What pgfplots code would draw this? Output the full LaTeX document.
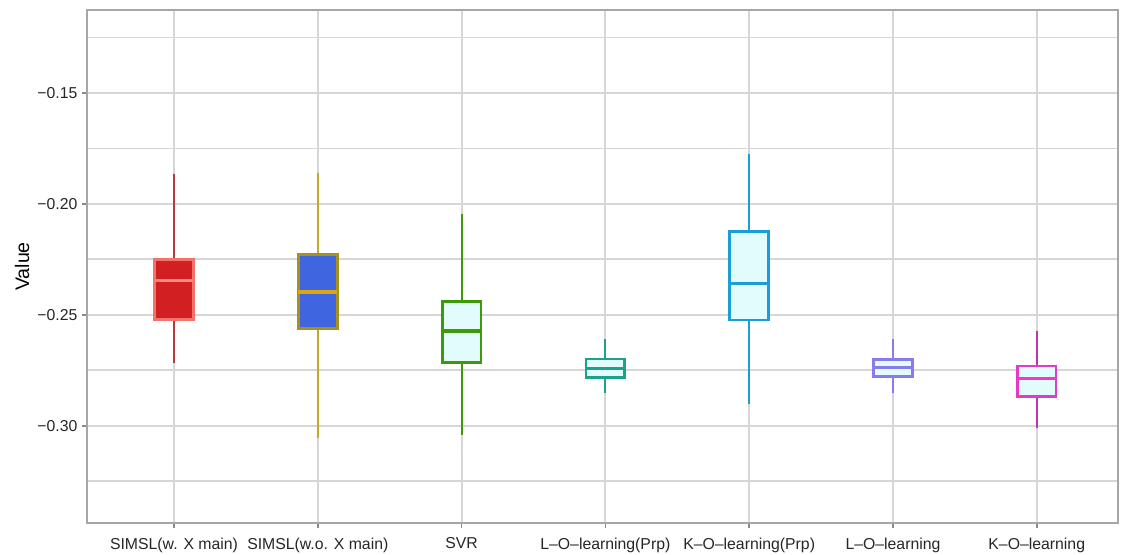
\documentclass[border=0pt]{standalone}
\usepackage{pgfplots}
\pgfplotsset{compat=1.18}
\usepgfplotslibrary{statistics}
\usepackage{fontspec}
\setmainfont{Liberation Sans}
\definecolor{gridgray}{HTML}{D6D6D6}
\definecolor{bordergray}{HTML}{A6A6A6}
\definecolor{tickgray}{HTML}{8A8A8A}
\definecolor{c1fill}{HTML}{D11F22}
\definecolor{c1line}{HTML}{F2736B}
\definecolor{c1med}{HTML}{F58A82}
\definecolor{c1wh}{HTML}{B83A3A}
\definecolor{c2fill}{HTML}{3F66E0}
\definecolor{c2line}{HTML}{A8901E}
\definecolor{c2med}{HTML}{D9A614}
\definecolor{c2wh}{HTML}{C2AA28}
\definecolor{lcyan}{HTML}{E2FCFC}
\definecolor{c3}{HTML}{3C9A08}
\definecolor{c4}{HTML}{1AA38A}
\definecolor{c5}{HTML}{1A9DD8}
\definecolor{c6}{HTML}{8A7AEE}
\definecolor{c7}{HTML}{E03CC8}
\definecolor{c7med}{HTML}{F436D0}
\begin{document}
\begin{tikzpicture}
\begin{axis}[
  scale only axis, width=515.5pt, height=256.5pt,
  at={(0,0)}, anchor=south west,
  xmin=0.395, xmax=7.565, ymin=-0.3438, ymax=-0.1126,
  xtick={1,2,3,4,5,6,7},
  xticklabels={SIMSL(w. X main),SIMSL(w.o. X main),SVR,L–O–learning(Prp),K–O–learning(Prp),L–O–learning,K–O–learning},
  ytick={-0.30,-0.25,-0.20,-0.15},
  yticklabels={−0.30,−0.25,−0.20,−0.15},
  minor ytick={-0.325,-0.275,-0.225,-0.175,-0.125},
  xmajorgrids, ymajorgrids, yminorgrids,
  major grid style={draw=gridgray, line width=1pt},
  minor grid style={draw=gridgray, line width=0.9pt},
  axis line style={draw=bordergray, line width=0.9pt},
  tick style={draw=tickgray, line width=0.8pt},
  tick align=outside, tick pos=left,
  major tick length=2.5pt, minor tick length=0pt,
  ticklabel style={font=\fontsize{7.9}{9}\selectfont, text=black!85},
  yticklabel style={xshift=1.2pt},
  xticklabel style={yshift=-1.3pt},
  ylabel={Value},
  every axis y label/.style={at={(axis description cs:-0.063,0.5)}, rotate=90, anchor=center, font=\fontsize{9.8}{11}\selectfont},
  boxplot/draw direction=y,
]
% 1 SIMSL(w. X main)
\addplot[solid, draw=c1line, fill=c1fill, line width=1.4pt,
  boxplot/every whisker/.style={draw=c1wh, line width=0.8pt},
  boxplot/every median/.style={draw=c1med, line width=1.8pt},
  boxplot prepared={draw position=1, lower whisker=-0.2719, lower quartile=-0.2520,
    median=-0.2346, upper quartile=-0.2249, upper whisker=-0.1866,
    box extend=0.27, whisker extend=0}] coordinates {};
% 2 SIMSL(w.o. X main)
\addplot[solid, draw=c2line, fill=c2fill, line width=1.5pt,
  boxplot/every whisker/.style={draw=c2wh, line width=0.8pt},
  boxplot/every median/.style={draw=c2med, line width=1.8pt},
  boxplot prepared={draw position=2, lower whisker=-0.3057, lower quartile=-0.2561,
    median=-0.2396, upper quartile=-0.2227, upper whisker=-0.1859,
    box extend=0.27, whisker extend=0}] coordinates {};
% 3 SVR
\addplot[solid, draw=c3, fill=lcyan, line width=1.4pt,
  boxplot/every whisker/.style={draw=c3, line width=1pt},
  boxplot/every median/.style={draw=c3, line width=1.8pt},
  boxplot prepared={draw position=3, lower whisker=-0.3042, lower quartile=-0.2714,
    median=-0.2573, upper quartile=-0.2441, upper whisker=-0.2047,
    box extend=0.27, whisker extend=0}] coordinates {};
% 4 L-O-learning(Prp)
\addplot[solid, draw=c4, fill=lcyan, line width=1.3pt,
  boxplot/every whisker/.style={draw=c4, line width=1pt},
  boxplot/every median/.style={draw=c4, line width=1.3pt},
  boxplot prepared={draw position=4, lower whisker=-0.2854, lower quartile=-0.2782,
    median=-0.2741, upper quartile=-0.2699, upper whisker=-0.2609,
    box extend=0.27, whisker extend=0}] coordinates {};
% 5 K-O-learning(Prp)
\addplot[solid, draw=c5, fill=lcyan, line width=1.3pt,
  boxplot/every whisker/.style={draw=c5, line width=1pt},
  boxplot/every median/.style={draw=c5, line width=1.6pt},
  boxplot prepared={draw position=5, lower whisker=-0.2902, lower quartile=-0.2523,
    median=-0.2358, upper quartile=-0.2125, upper whisker=-0.1775,
    box extend=0.27, whisker extend=0}] coordinates {};
% 6 L-O-learning
\addplot[solid, draw=c6, fill=lcyan, line width=1.3pt,
  boxplot/every whisker/.style={draw=c6, line width=1pt},
  boxplot/every median/.style={draw=c6, line width=1.3pt},
  boxplot prepared={draw position=6, lower whisker=-0.2854, lower quartile=-0.2779,
    median=-0.2738, upper quartile=-0.2700, upper whisker=-0.2609,
    box extend=0.27, whisker extend=0}] coordinates {};
% 7 K-O-learning
\addplot[solid, draw=c7, fill=lcyan, line width=1.2pt,
  boxplot/every whisker/.style={draw=c7!85!black, line width=1pt},
  boxplot/every median/.style={draw=c7med, line width=1.6pt},
  boxplot prepared={draw position=7, lower whisker=-0.3012, lower quartile=-0.2868,
    median=-0.2788, upper quartile=-0.2730, upper whisker=-0.2574,
    box extend=0.27, whisker extend=0}] coordinates {};
\end{axis}
\pgfresetboundingbox
\path[use as bounding box] (-43.5pt,-16pt) rectangle (519pt,261.5pt);
\end{tikzpicture}
\end{document}
